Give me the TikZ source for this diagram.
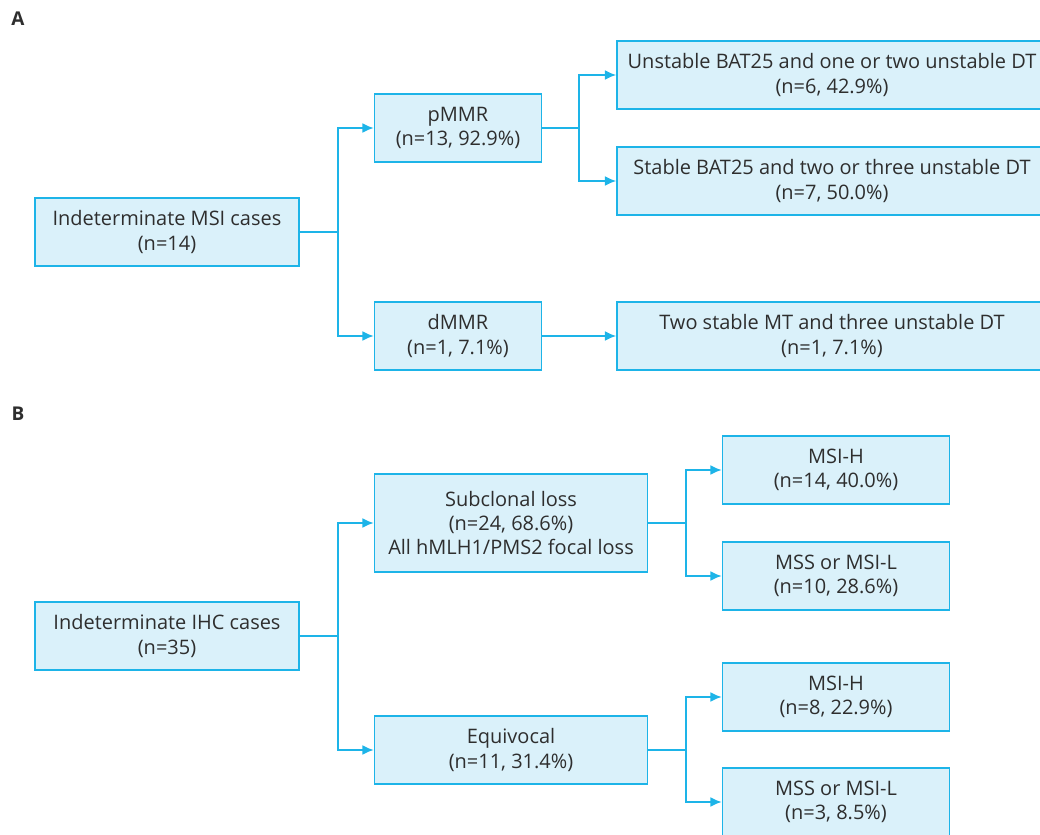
\documentclass[tikz,border=0pt]{standalone}
\usepackage{fontspec}
\setmainfont{Open Sans}
\usetikzlibrary{arrows.meta, positioning}

\definecolor{boxfill}{HTML}{DAF1FA}
\definecolor{boxline}{HTML}{1DB4E8}
\definecolor{txt}{HTML}{2E2E2E}

\tikzset{
    box/.style={draw=boxline, fill=boxfill, line width=1.1pt, rectangle, inner sep=0pt,
        align=center, text=txt, font=\fontsize{14.2}{17.2}\selectfont, minimum height=1.7cm},
    conn/.style={draw=boxline, line width=1.1pt},
    arr/.style={conn, -{Latex[length=8pt, width=7pt]}},
    panel/.style={font=\fontsize{13.5}{15}\selectfont\bfseries, text=txt, inner sep=0pt}
}

\begin{document}
\begin{tikzpicture}[x=0.025cm, y=-0.025cm]
    \useasboundingbox (0,0) rectangle (1040,835);

    % Panel A
    \node[panel] (labA) at (18,19) {A};
    \node[box, minimum width=6.6cm] (msi) at (167,232) {Indeterminate MSI cases\\(n=14)};
    \node[box, minimum width=4.175cm] (pmmr) at (458,128) {pMMR\\(n=13, 92.9\%)};
    \node[box, minimum width=4.175cm] (dmmr) at (458,336) {dMMR\\(n=1, 7.1\%)};
    \node[box, minimum width=10.75cm] (unbat) at (832,75) {Unstable BAT25 and one or two unstable DT\\(n=6, 42.9\%)};
    \node[box, minimum width=10.75cm] (stbat) at (832,181) {Stable BAT25 and two or three unstable DT\\(n=7, 50.0\%)};
    \node[box, minimum width=10.75cm] (twomt) at (832,336) {Two stable MT and three unstable DT\\(n=1, 7.1\%)};

    \coordinate (jmsi) at (338,232);
    \coordinate (jpmmr) at (579,128);
    \draw[conn] (msi.east) -- (jmsi);
    \draw[arr] (jmsi) |- (pmmr.west);
    \draw[arr] (jmsi) |- (dmmr.west);
    \draw[conn] (pmmr.east) -- (jpmmr);
    \draw[arr] (jpmmr) |- (unbat.west);
    \draw[arr] (jpmmr) |- (stbat.west);
    \draw[arr] (dmmr.east) -- (twomt.west);

    % Panel B
    \node[panel] (labB) at (18,414) {B};
    \node[box, minimum width=6.6cm] (ihc) at (167,636) {Indeterminate IHC cases\\(n=35)};
    \node[box, minimum width=6.825cm, minimum height=2.45cm] (subcl) at (511,523) {Subclonal loss\\(n=24, 68.6\%)\\All hMLH1/PMS2 focal loss};
    \node[box, minimum width=6.825cm] (equiv) at (511,750) {Equivocal\\(n=11, 31.4\%)};
    \node[box, minimum width=5.675cm] (hsub) at (836,470) {MSI-H\\(n=14, 40.0\%)};
    \node[box, minimum width=5.675cm] (lsub) at (836,576) {MSS or MSI-L\\(n=10, 28.6\%)};
    \node[box, minimum width=5.675cm] (hequ) at (836,697) {MSI-H\\(n=8, 22.9\%)};
    \node[box, minimum width=5.675cm] (lequ) at (836,802) {MSS or MSI-L\\(n=3, 8.5\%)};

    \coordinate (jihc) at (338,636);
    \coordinate (jsubcl) at (686,523);
    \coordinate (jequiv) at (686,750);
    \draw[conn] (ihc.east) -- (jihc);
    \draw[arr] (jihc) |- (subcl.west);
    \draw[arr] (jihc) |- (equiv.west);
    \draw[conn] (subcl.east) -- (jsubcl);
    \draw[arr] (jsubcl) |- (hsub.west);
    \draw[arr] (jsubcl) |- (lsub.west);
    \draw[conn] (equiv.east) -- (jequiv);
    \draw[arr] (jequiv) |- (hequ.west);
    \draw[arr] (jequiv) |- (lequ.west);
\end{tikzpicture}
\end{document}
